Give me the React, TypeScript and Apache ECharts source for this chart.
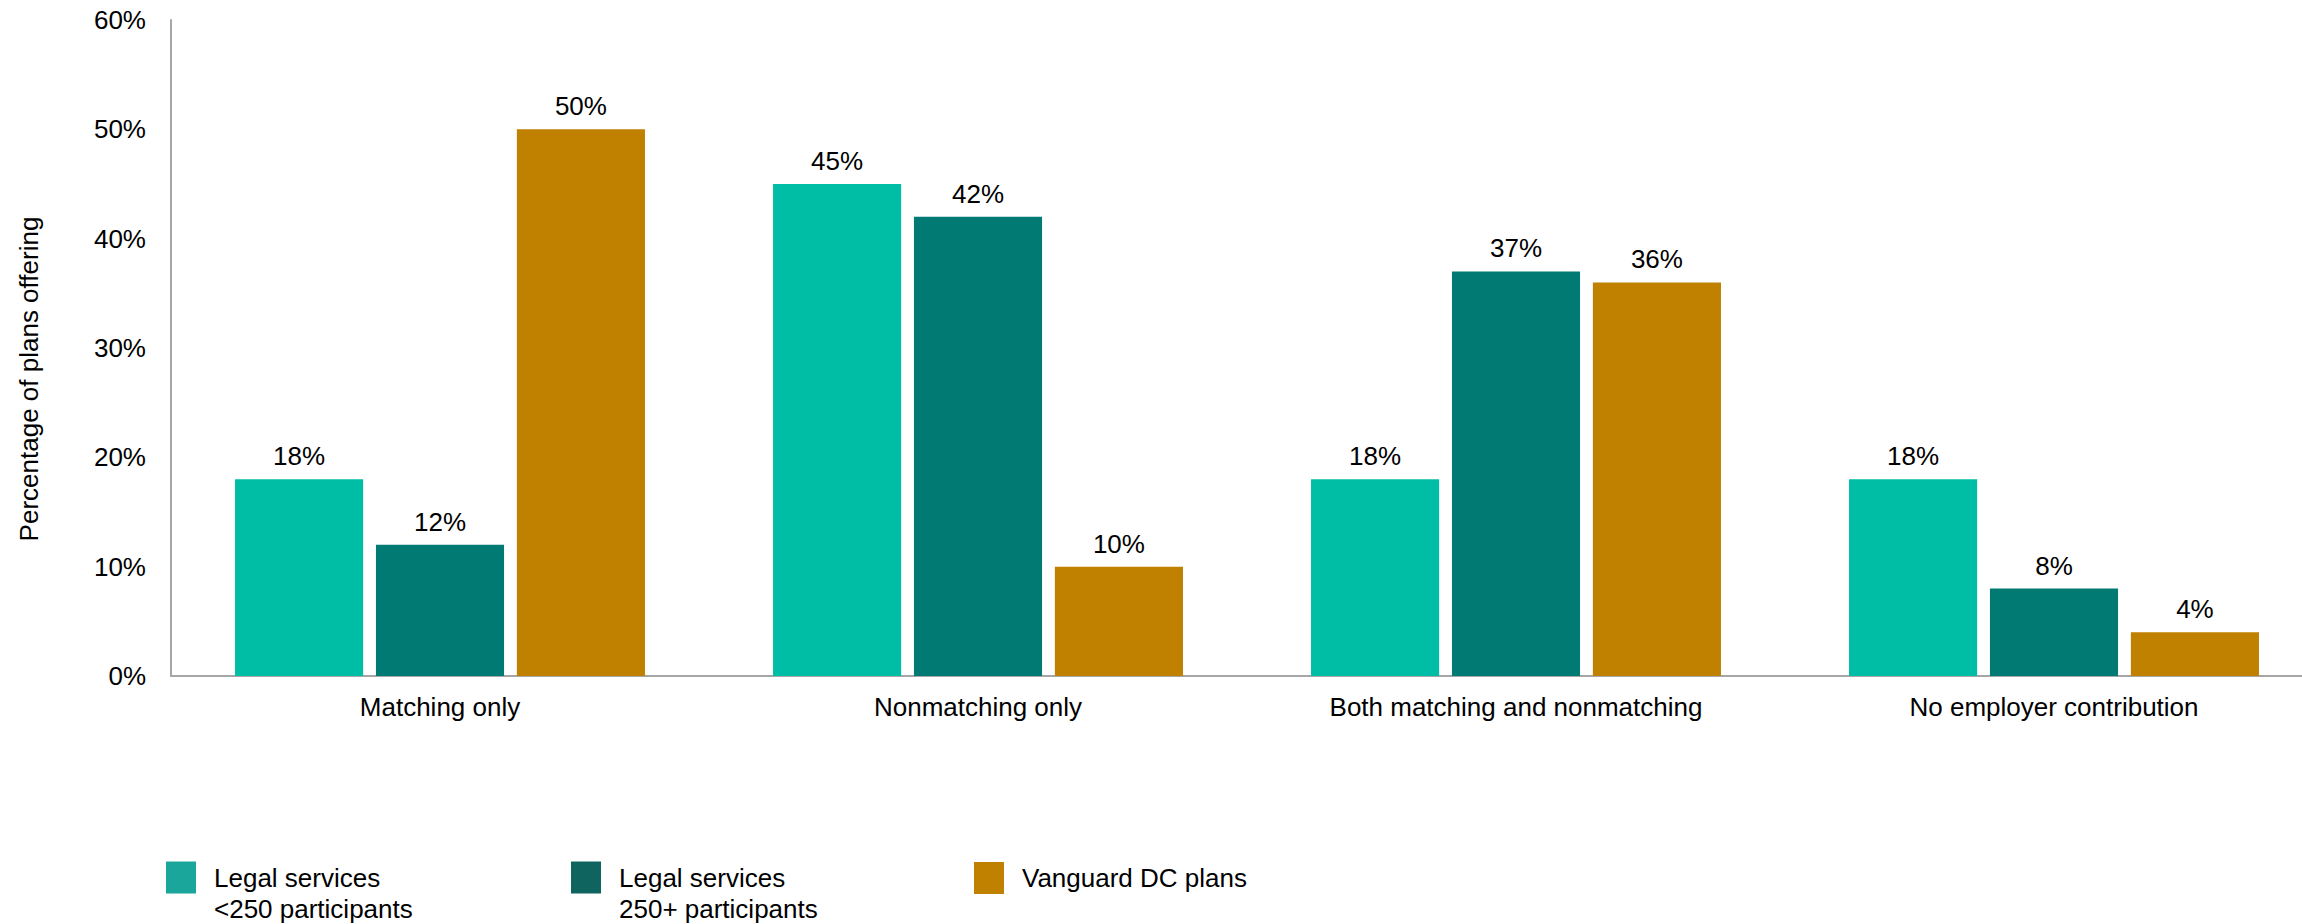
import React, { useEffect, useRef } from "react";
import * as echarts from "echarts";

const categories = [
  "Matching only",
  "Nonmatching only",
  "Both matching and nonmatching",
  "No employer contribution",
];
const seriesNames = [
  "Legal services\n<250 participants",
  "Legal services\n250+ participants",
  "Vanguard DC plans",
];
const smallLegal = [18, 45, 18, 18];
const largeLegal = [12, 42, 37, 8];
const vanguardDC = [50, 10, 36, 4];
const yTicks = { min: 0, max: 60, interval: 10 };
const yAxisTitle = "Percentage of plans offering";

const barColors = ["#00BEA5", "#007A73", "#C08000"];
const legendColors = ["#1AA69B", "#10645F", "#C08000"];
const FONT = "Liberation Sans, Arial, Helvetica, sans-serif";

export default function App() {
  const ref = useRef<HTMLDivElement>(null);
  useEffect(() => {
    if (!ref.current) return;
    const chart = echarts.init(ref.current, undefined, { renderer: "svg" });
    const values = [smallLegal, largeLegal, vanguardDC];
    const legendLefts = [166, 571, 974];
    const legends = seriesNames.map((name, i) => {
      const twoLine = name.indexOf("\n") >= 0;
      return {
        data: [{ name, itemStyle: { color: legendColors[i] } }],
        left: legendLefts[i],
        top: twoLine ? 831 : 862,
        padding: 0,
        itemWidth: 30,
        itemHeight: 32,
        itemGap: 0,
        icon: "rect",
        selectedMode: false,
        formatter: (n: string) => {
          const lines = n.split("\n").map((l) => "{s|}" + l);
          return (twoLine ? "\n" : "") + lines.join("\n");
        },
        textStyle: {
          fontFamily: FONT,
          fontSize: 26,
          lineHeight: 31,
          color: "#000",
          rich: {
            s: { width: 13, lineHeight: 31, fontSize: 26 },
          },
        },
      };
    });
    chart.setOption({
      animation: false,
      backgroundColor: "#fff",
      textStyle: { fontFamily: FONT },
      grid: {
        left: 171,
        right: -21,
        top: 20,
        bottom: 248,
        containLabel: false,
        outerBoundsMode: "none",
      },
      legend: legends,
      xAxis: {
        type: "category",
        data: categories,
        axisLine: { lineStyle: { color: "#A6A6A6", width: 2 } },
        axisTick: { show: false },
        axisLabel: { fontFamily: FONT, fontSize: 26, color: "#000", margin: 18 },
      },
      yAxis: {
        type: "value",
        min: yTicks.min,
        max: yTicks.max,
        interval: yTicks.interval,
        splitLine: { show: false },
        axisLine: { show: true, lineStyle: { color: "#A6A6A6", width: 2 } },
        axisTick: { show: false },
        axisLabel: {
          fontFamily: FONT,
          fontSize: 26,
          color: "#000",
          margin: 25,
          formatter: "{value}%",
        },
      },
      graphic: [
        {
          type: "text",
          x: 29,
          y: 379,
          rotation: Math.PI / 2,
          style: {
            text: yAxisTitle,
            fontFamily: FONT,
            fontSize: 26,
            fill: "#000",
            align: "center",
            verticalAlign: "middle",
          },
        },
      ],
      series: seriesNames.map((name, i) => ({
        name,
        type: "bar",
        data: values[i],
        barCategoryGap: "23.8%",
        barGap: "10%",
        itemStyle: { color: barColors[i] },
        label: {
          show: true,
          position: "top",
          distance: 10,
          formatter: "{c}%",
          fontFamily: FONT,
          fontSize: 26,
          color: "#000",
        },
      })),
    });
    return () => chart.dispose();
  }, []);
  return (
    <div
      ref={ref}
      style={{ position: "fixed", left: 0, top: 0, width: 2302, height: 924 }}
    />
  );
}
